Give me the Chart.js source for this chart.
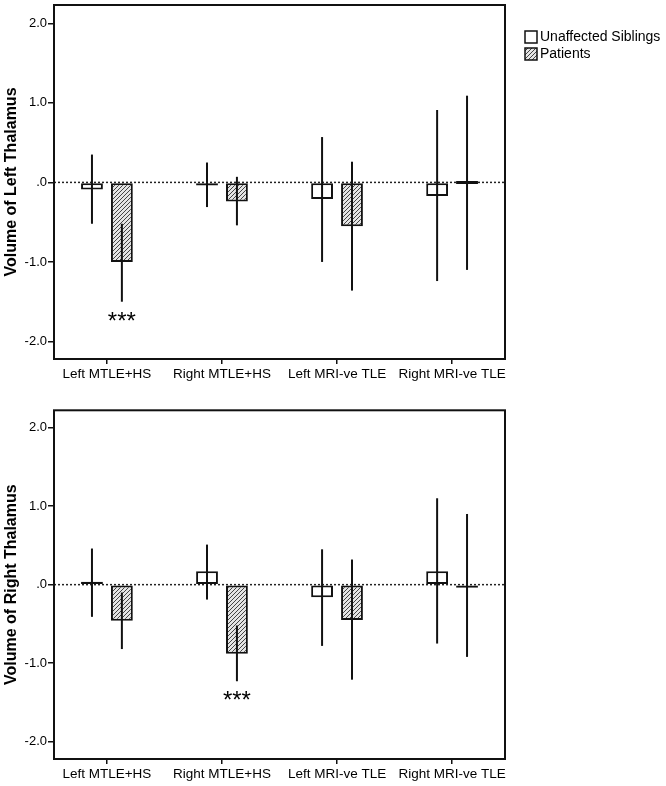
<!DOCTYPE html>
<html>
<head>
<meta charset="utf-8">
<script src="https://cdn.jsdelivr.net/npm/chart.js@4.4.0/dist/chart.umd.min.js"></script>
<style>
  html, body { margin: 0; padding: 0; background: #fff; }
  #wrap { position: relative; width: 666px; height: 786px; }
  .box { position: absolute; left: 0; width: 666px; }
</style>
</head>
<body>
<div id="wrap">
  <div class="box" style="top:0;height:392px"><canvas id="leftChart"></canvas></div>
  <div class="box" style="top:392px;height:394px"><canvas id="rightChart"></canvas></div>
</div>
<script>
// groups and axis ticks
const categories = ['Left MTLE+HS', 'Right MTLE+HS', 'Left MRI-ve TLE', 'Right MRI-ve TLE'];
const seriesNames = ['Unaffected Siblings', 'Patients'];
const yTickValues = [-2, -1, 0, 1, 2];
const yTickLabels = ['-2.0', '-1.0', '.0', '1.0', '2.0'];

// left thalamus (top panel)
const leftSiblings     = [-0.09, -0.03, -0.21, -0.17];
const leftSiblingsLow  = [-0.52, -0.31, -1.00, -1.24];
const leftSiblingsHigh = [0.35, 0.25, 0.57, 0.91];
const leftPatients     = [-1.00, -0.24, -0.55, 0.00];
const leftPatientsLow  = [-1.50, -0.54, -1.36, -1.10];
const leftPatientsHigh = [-0.52, 0.07, 0.26, 1.09];
const leftStars        = ['***', '', '', ''];

// right thalamus (bottom panel)
const rightSiblings     = [0.03, 0.17, -0.16, 0.17];
const rightSiblingsLow  = [-0.41, -0.19, -0.78, -0.75];
const rightSiblingsHigh = [0.46, 0.51, 0.45, 1.10];
const rightPatients     = [-0.46, -0.88, -0.45, -0.01];
const rightPatientsLow  = [-0.82, -1.23, -1.21, -0.92];
const rightPatientsHigh = [-0.10, -0.52, 0.32, 0.90];
const rightStars        = ['', '***', '', ''];

const FONT = '"Liberation Sans", Arial, Helvetica, sans-serif';

// diagonal hatch used for the patients bars
function makeHatch() {
  const c = document.createElement('canvas');
  c.width = 4; c.height = 4;
  const g = c.getContext('2d');
  g.fillStyle = '#e4e4e4';
  g.fillRect(0, 0, 4, 4);
  g.strokeStyle = '#444';
  g.lineWidth = 1;
  g.beginPath();
  g.moveTo(-1, 5); g.lineTo(5, -1);
  g.moveTo(-1, 1); g.lineTo(1, -1);
  g.moveTo(3, 5); g.lineTo(5, 3);
  g.stroke();
  return g.createPattern(c, 'repeat');
}
const hatch = makeHatch();

// zero line, error bars, stars, frame, legend
const decor = {
  id: 'decor',
  beforeDatasetsDraw(chart) {
    const { ctx, chartArea: a, scales: { y } } = chart;
    const y0 = y.getPixelForValue(0);
    ctx.save();
    ctx.strokeStyle = '#222';
    ctx.lineWidth = 1.5;
    ctx.setLineDash([2, 2]);
    ctx.beginPath();
    ctx.moveTo(a.left, y0);
    ctx.lineTo(a.right, y0);
    ctx.stroke();
    ctx.restore();
  },
  afterDatasetsDraw(chart) {
    const { ctx, chartArea: a, scales: { y } } = chart;
    const o = chart.options.plugins.decor;
    ctx.save();
    ctx.strokeStyle = '#111';
    ctx.lineWidth = 2;
    o.errors.forEach((err, di) => {
      chart.getDatasetMeta(di).data.forEach((bar, i) => {
        ctx.beginPath();
        ctx.moveTo(bar.x, y.getPixelForValue(err.high[i]));
        ctx.lineTo(bar.x, y.getPixelForValue(err.low[i]));
        ctx.stroke();
      });
    });

    const pbars = chart.getDatasetMeta(1).data;
    ctx.fillStyle = '#000';
    ctx.font = '24px ' + FONT;
    ctx.textAlign = 'center';
    ctx.textBaseline = 'alphabetic';
    o.stars.forEach((s, i) => {
      if (!s) return;
      ctx.fillText(s, pbars[i].x, y.getPixelForValue(o.errors[1].low[i]) + 27);
    });

    ctx.strokeStyle = '#111';
    ctx.lineWidth = 2;
    ctx.strokeRect(a.left, a.top, a.right - a.left, a.bottom - a.top);

    if (o.legend) {
      const lx = a.right + 20, ly = a.top + 26;
      ctx.font = '14px ' + FONT;
      ctx.textAlign = 'left';
      ctx.textBaseline = 'middle';
      ctx.lineWidth = 1.5;
      seriesNames.forEach((name, i) => {
        const by = ly + i * 17;
        ctx.fillStyle = i ? hatch : '#fff';
        ctx.fillRect(lx, by, 12, 12);
        ctx.strokeRect(lx, by, 12, 12);
        ctx.fillStyle = '#000';
        ctx.fillText(name, lx + 15, by + 6.5);
      });
    }
    ctx.restore();
  }
};

function makeChart(id, p) {
  const toXY = arr => arr.map((v, i) => ({ x: i, y: v }));
  const barStyle = {
    borderColor: '#111',
    borderWidth: 2,
    borderSkipped: false,
    minBarLength: 3,
    barPercentage: 0.73,
    categoryPercentage: 0.52
  };
  return new Chart(document.getElementById(id), {
    type: 'bar',
    data: {
      datasets: [
        Object.assign({ label: seriesNames[0], data: toXY(p.sib), backgroundColor: '#fff' }, barStyle),
        Object.assign({ label: seriesNames[1], data: toXY(p.pat), backgroundColor: hatch }, barStyle)
      ]
    },
    options: {
      responsive: true,
      maintainAspectRatio: false,
      animation: false,
      layout: { padding: { left: 0, right: 161, top: p.top, bottom: 0 } },
      plugins: {
        legend: { display: false },
        tooltip: { enabled: false },
        decor: {
          errors: [{ low: p.sibLow, high: p.sibHigh }, { low: p.patLow, high: p.patHigh }],
          stars: p.stars,
          legend: p.legend
        }
      },
      scales: {
        x: {
          type: 'linear',
          offset: false,
          min: -0.46,
          max: 3.46,
          afterBuildTicks: s => { s.ticks = categories.map((c, i) => ({ value: i })); },
          ticks: {
            callback: (v, i) => categories[i],
            color: '#000',
            font: { family: FONT, size: 13.5 },
            padding: 2,
            maxRotation: 0,
            autoSkip: false
          },
          grid: { offset: false, drawOnChartArea: false, tickLength: 5, color: '#111', lineWidth: 1.5 },
          border: { display: false },
          afterFit: s => { s.height = p.xHeight; s.paddingLeft = 0; s.paddingRight = 0; }
        },
        y: {
          min: -2.22,
          max: p.yMax,
          afterBuildTicks: s => { s.ticks = yTickValues.map(v => ({ value: v })); },
          ticks: {
            callback: (v, i) => yTickLabels[i],
            color: '#000',
            font: { family: FONT, size: 13 },
            padding: 1
          },
          grid: { drawOnChartArea: false, tickLength: 6, color: '#111', lineWidth: 1.5 },
          border: { display: false },
          title: {
            display: true,
            text: p.title,
            color: '#000',
            font: { family: FONT, size: 16, weight: 'bold' },
            padding: { top: 2, bottom: 0 }
          },
          afterFit: s => { s.width = 54; s.paddingTop = 0; s.paddingBottom = 0; }
        }
      }
    },
    plugins: [decor]
  });
}

makeChart('leftChart', {
  title: 'Volume of Left Thalamus',
  sib: leftSiblings, sibLow: leftSiblingsLow, sibHigh: leftSiblingsHigh,
  pat: leftPatients, patLow: leftPatientsLow, patHigh: leftPatientsHigh,
  stars: leftStars, legend: true, top: 5, xHeight: 33, yMax: 2.23
});

makeChart('rightChart', {
  title: 'Volume of Right Thalamus',
  sib: rightSiblings, sibLow: rightSiblingsLow, sibHigh: rightSiblingsHigh,
  pat: rightPatients, patLow: rightPatientsLow, patHigh: rightPatientsHigh,
  stars: rightStars, legend: false, top: 18.3, xHeight: 27, yMax: 2.22
});
</script>
</body>
</html>
